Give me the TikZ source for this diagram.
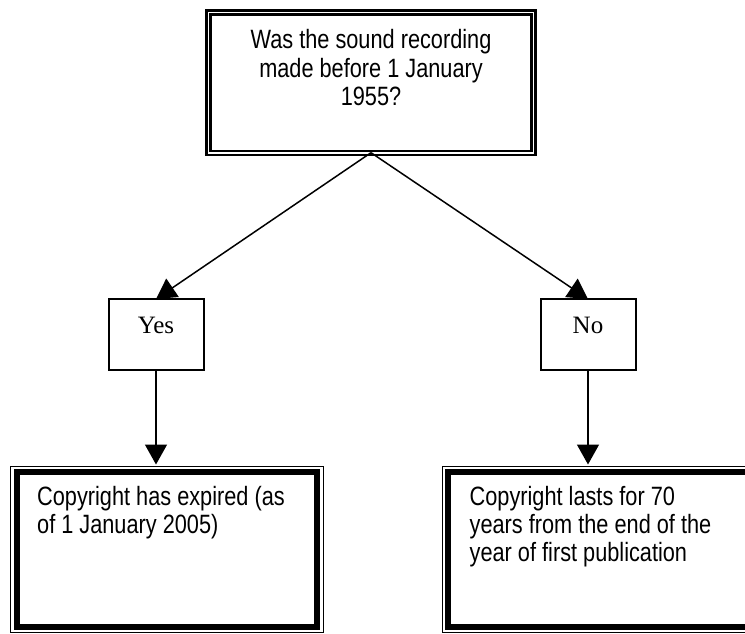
\documentclass[tikz,border=0pt]{standalone}
\usepackage{fontspec}
\newfontfamily\narrowsans[FakeStretch=0.82]{Liberation Sans}
\newfontfamily\romanface{Liberation Serif}
\usetikzlibrary{positioning, arrows.meta, calc}

\begin{document}
\begin{tikzpicture}[x=1pt, y=-1pt,
    question/.style={draw, double, double distance=1.7pt, line width=2.3pt,
      minimum width=325pt, minimum height=140.2pt, inner sep=0pt, outer sep=0pt},
    choice/.style={draw, line width=2pt, minimum width=95pt, inner sep=0pt, outer sep=0pt,
      text height=34pt, text depth=37pt, font=\romanface\fontsize{25}{28}\selectfont},
    result/.style={draw, line width=6pt, minimum width=300.5pt, minimum height=154.5pt,
      inner sep=0pt, outer sep=0pt},
    boxtext/.style={inner sep=0pt, font=\narrowsans\fontsize{26.5}{28}\selectfont},
    link/.style={-{Triangle[length=20pt, width=22pt]}, line width=1.5pt}]
  \useasboundingbox (0,0) rectangle (745,633);
  \clip (0,0) rectangle (745,633);

  % question
  \node[question] (q) at (371,82.6) {};
  \node[boxtext, align=center, font=\narrowsans\fontsize{26.5}{28.5}\selectfont,
    below=17pt of q.north] (qtext)
    {Was the sound recording\\made before 1 January\\1955?};

  % answers
  \node[choice] (yes) at (156,334.5) {Yes};
  \node[choice] (no) at (588,334.5) {No};

  % outcomes
  \node[result] (yesres) at (166.75,549.25) {};
  \node[result] (nores) at (598.25,549.25) {};
  \draw[line width=1pt] ($(yesres.north west)+(-6,-6)$) rectangle ($(yesres.south east)+(6,6)$);
  \draw[line width=1pt] ($(nores.north west)+(-6,-6)$) rectangle ($(nores.south east)+(6,6)$);
  \node[boxtext, align=left, below right=14.5pt and 20.5pt of yesres.north west] (yestext)
    {Copyright has expired (as\\of 1 January 2005)};
  \node[boxtext, align=left, below right=14.5pt and 21.5pt of nores.north west] (notext)
    {Copyright lasts for 70\\years from the end of the\\year of first publication};

  \draw[link] (q.south) -- (yes.north);
  \draw[link] (q.south) -- (no.north);
  \draw[link] (yes.south) -- ($(yes.south |- yesres.north)+(0,-7.5)$);
  \draw[link] (no.south) -- ($(no.south |- nores.north)+(0,-7.5)$);
\end{tikzpicture}
\end{document}
